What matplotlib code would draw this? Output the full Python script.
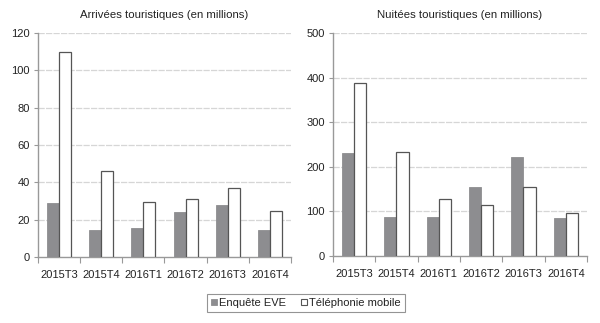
import matplotlib
matplotlib.use("Agg")
import matplotlib.pyplot as plt
import numpy as np
from matplotlib.patches import Patch

plt.rcParams["font.family"] = ["Liberation Sans", "DejaVu Sans"]

quarters = ["2015T3", "2015T4", "2016T1", "2016T2", "2016T3", "2016T4"]
arrivals_eve = [29, 14.5, 15.3, 24.2, 28, 14.3]
arrivals_mobile = [110, 46, 29.5, 31, 37, 24.5]
nights_eve = [230, 87, 86.5, 154, 222, 86]
nights_mobile = [387, 233, 128, 114, 155, 96]

series_names = ["Enquête EVE", "Téléphonie mobile"]
titles = ["Arrivées touristiques (en millions)", "Nuitées touristiques (en millions)"]

GRAY = "#8d8d90"
EDGE = "#555555"
AXIS = "#999999"
TEXT = "#222222"
FS = 8.0

fig = plt.figure(figsize=(6.0, 3.23), dpi=100)
ax1 = fig.add_axes([0.0633, 0.2043, 0.4217, 0.6935])
ax2 = fig.add_axes([0.555, 0.2074, 0.4233, 0.6904])


def draw(ax, eve, mobile, title, ymax, step):
    x = np.arange(len(quarters))
    w = 0.285
    ax.bar(x - w / 2, eve, w, color=GRAY, edgecolor=GRAY, linewidth=0.6, zorder=3)
    ax.bar(x + w / 2, mobile, w, color="white", edgecolor=EDGE, linewidth=0.9, zorder=3)
    ax.set_xlim(-0.5, len(quarters) - 0.5)
    ax.set_ylim(0, ymax)
    ax.set_yticks(np.arange(0, ymax + 1, step))
    ax.set_xticks(x)
    ax.set_xticklabels(quarters)
    ax.set_xticks(np.arange(-0.5, len(quarters), 1.0), minor=True)
    ax.tick_params(axis="x", which="major", length=0, pad=9, labelsize=FS, labelcolor=TEXT)
    ax.tick_params(axis="x", which="minor", length=4, width=0.8, color=AXIS, direction="out")
    ax.tick_params(axis="y", length=3, width=0.8, color=AXIS, pad=3, labelsize=FS, labelcolor=TEXT)
    for s in ("top", "right"):
        ax.spines[s].set_visible(False)
    for s in ("left", "bottom"):
        ax.spines[s].set_color(AXIS)
        ax.spines[s].set_linewidth(1.0)
    for v in np.arange(step, ymax + 1, step):
        ax.axhline(v, color="#d6d6d6", linewidth=0.9, linestyle=(0, (5, 1)), zorder=1)
    ax.set_title(title, fontsize=FS + 0.2, color=TEXT, pad=11)


draw(ax1, arrivals_eve, arrivals_mobile, titles[0], 120, 20)
draw(ax2, nights_eve, nights_mobile, titles[1], 500, 100)

handles = [
    Patch(facecolor=GRAY, edgecolor=GRAY, linewidth=0.6),
    Patch(facecolor="white", edgecolor=EDGE, linewidth=0.8),
]
leg = fig.legend(handles, series_names, loc="center", bbox_to_anchor=(0.51, 0.062),
                 ncol=2, fontsize=FS, frameon=True, fancybox=False,
                 handlelength=0.55, handleheight=0.55, handletextpad=0.2,
                 columnspacing=1.3, borderpad=0.35, borderaxespad=0)
leg.get_frame().set_edgecolor("#7a7a7a")
leg.get_frame().set_linewidth(0.8)
for t in leg.get_texts():
    t.set_color(TEXT)

fig.savefig("out.png", dpi=100, facecolor="white")
